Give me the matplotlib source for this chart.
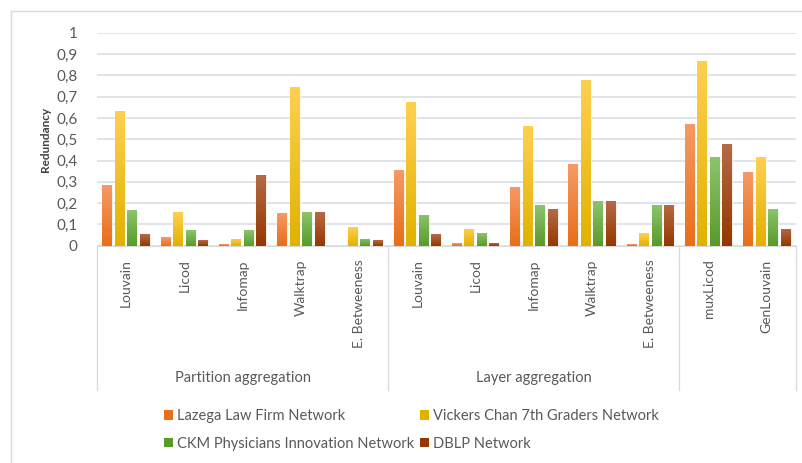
import numpy as np
import matplotlib
matplotlib.use("Agg")
import matplotlib.pyplot as plt
from matplotlib.colors import LinearSegmentedColormap
from matplotlib.patches import Rectangle, Patch

methods = ["Louvain", "Licod", "Infomap", "Walktrap", "E. Betweeness",
           "Louvain", "Licod", "Infomap", "Walktrap", "E. Betweeness",
           "muxLicod", "GenLouvain"]
groups = ["Partition aggregation", "Layer aggregation"]
series = ["Lazega Law Firm Network", "Vickers Chan 7th Graders Network",
          "CKM Physicians Innovation Network", "DBLP Network"]

lazega = [0.285, 0.041, 0.008, 0.152, 0.0,
          0.357, 0.014, 0.277, 0.384, 0.008,
          0.573, 0.345]
vickers = [0.634, 0.158, 0.033, 0.745, 0.086,
           0.673, 0.080, 0.560, 0.780, 0.060,
           0.866, 0.416]
ckm = [0.166, 0.072, 0.072, 0.158, 0.033,
       0.146, 0.060, 0.191, 0.211, 0.191,
       0.416, 0.172]
dblp = [0.053, 0.027, 0.330, 0.158, 0.027,
        0.053, 0.014, 0.172, 0.211, 0.191,
        0.476, 0.080]

# (top, bottom) colours of the gradient fill
shades = [("#F69A66", "#E86E18"), ("#FFD050", "#E0B200"),
          ("#8CC46C", "#599A2A"), ("#B56A46", "#953800")]

plt.rcParams['font.family'] = ["Lato", "DejaVu Sans"]
grey = "#595959"

fig = plt.figure(figsize=(8.02, 4.63), dpi=100)
ax = fig.add_axes([97 / 802, 1 - 245.7 / 463, 699 / 802, 213 / 463])

x = np.arange(len(methods))
step = 0.215
width = 0.17
for i, vals in enumerate([lazega, vickers, ckm, dblp]):
    cmap = LinearSegmentedColormap.from_list("g%d" % i, [shades[i][1], shades[i][0]])
    bars = ax.bar(x + (i - 1.5) * step, vals, width, color=shades[i][1],
                  edgecolor="white", linewidth=0.6, zorder=3)
    grad = np.linspace(0, 1, 100).reshape(-1, 1)
    for b in bars:
        h = b.get_height()
        if h <= 0:
            continue
        x0 = b.get_x()
        im = ax.imshow(grad, cmap=cmap, origin="lower", aspect="auto",
                       extent=(x0, x0 + b.get_width(), 0, h), zorder=3.5)
        im.set_clip_path(b)

ax.set_xlim(-0.5, len(methods) - 0.5)
ax.set_ylim(0, 1)
ax.set_yticks(np.arange(0, 1.01, 0.1))
ax.set_yticklabels(["0"] + ["0,%d" % k for k in range(1, 10)] + ["1"])
ax.yaxis.grid(True, color="#DCDFE6", linewidth=1.2, zorder=0)
ax.set_axisbelow(True)
for s in ["top", "right", "left"]:
    ax.spines[s].set_visible(False)
ax.spines["bottom"].set_color("#D9D9D9")
ax.tick_params(axis="y", length=0, pad=14, labelsize=11, labelcolor=grey)
ax.set_ylabel("Redundancy", fontsize=8.5, fontweight="bold", color="#404040", labelpad=4)

ax.set_xticks(x)
ax.set_xticklabels(methods, rotation=90, va="top")
ax.tick_params(axis="x", length=0, pad=10, labelsize=10, labelcolor=grey)

# multi-level category axis
tr = ax.get_xaxis_transform()
for d in [-0.5, 4.5, 9.5, len(methods) - 0.5]:
    ax.plot([d, d], [0, -0.677], transform=tr, color="#D9D9D9", lw=0.9, clip_on=False)
ax.text(2, -0.621, groups[0], transform=tr, ha="center", va="center", fontsize=10.5, color=grey)
ax.text(7, -0.621, groups[1], transform=tr, ha="center", va="center", fontsize=10.5, color=grey)

# chart border
fig.patches.append(Rectangle((11 / 802, -0.1), 1.2, 1 - 11 / 463 + 0.1, transform=fig.transFigure,
                             fill=False, edgecolor="#D9D9D9", lw=1))

# legend is filled row by row in the reference
handles = [Patch(facecolor=shades[i][1], edgecolor="none") for i in range(4)]
order = [0, 2, 1, 3]
fig.legend([handles[k] for k in order], [series[k] for k in order], ncol=2, loc="upper left",
           bbox_to_anchor=(151 / 802, 1 - 396 / 463),
           frameon=False, fontsize=10.5, handlelength=0.6, handleheight=0.6,
           handletextpad=0.3, columnspacing=0.4, labelspacing=0.95, labelcolor=grey)

fig.savefig("out.png", dpi=100)
